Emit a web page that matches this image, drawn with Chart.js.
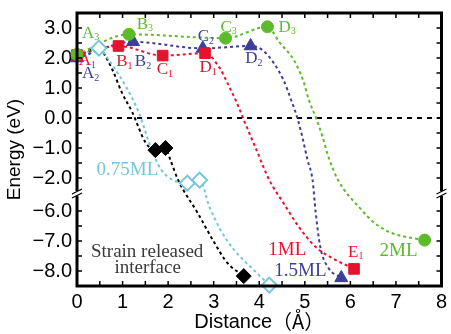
<!DOCTYPE html>
<html>
<head>
<meta charset="utf-8">
<script src="https://cdn.jsdelivr.net/npm/chart.js@4"></script>
<style>
html, body { margin: 0; padding: 0; background: #fff; }
canvas { display: block; }
</style>
</head>
<body>
<canvas id="chart" width="451" height="334"></canvas>
<script>
// energies are real values; the y axis is broken between -2.5 and -5.4
const xTicks = [0, 1, 2, 3, 4, 5, 6, 7, 8];
const yTicks = [3, 2, 1, 0, -1, -2, -6, -7, -8];

// 1ML (red squares A1..E1)
const ml1Marks = [[0, 2.1], [0.91, 2.4], [1.88, 2.08], [2.81, 2.16], [6.08, -7.93]];
const ml1Curve = [[0, 2.1], [0.91, 2.4], [1.88, 2.08], [2.81, 2.16], [3.13, 1.67], [3.3, 1.17], [3.51, 0.5],
  [3.69, -0.17], [3.94, -1.07], [4.22, -2.07], [4.53, -5.73], [4.87, -6.53], [5.24, -7.2], [5.6, -7.57], [6.08, -7.93]];

// 1.5ML (blue triangles A2..D2)
const ml15Marks = [[0, 2.0], [1.23, 2.54], [2.76, 2.32], [3.81, 2.4], [5.8, -8.23]];
const ml15Curve = [[0, 2.0], [1.23, 2.54], [2.76, 2.32], [3.81, 2.4], [4.12, 2.2], [4.53, 1.27], [4.7, 0.6],
  [4.85, -0.07], [4.96, -0.73], [5.06, -1.4], [5.17, -2.07], [5.24, -6.07], [5.34, -7.2], [5.52, -7.9], [5.8, -8.23]];

// 2ML (green circles A3..D3)
const ml2Marks = [[0, 2.12], [1.14, 2.79], [3.26, 2.66], [4.18, 3.04], [7.63, -6.97]];
const ml2Curve = [[0, 2.12], [1.14, 2.79], [3.26, 2.66], [4.18, 3.04], [4.44, 2.53], [4.76, 1.93], [4.96, 1.27],
  [5.09, 0.6], [5.24, 0.03], [5.39, -0.63], [5.52, -1.3], [5.73, -2.07], [6.25, -5.97], [6.53, -6.4],
  [6.9, -6.73], [7.24, -6.87], [7.63, -6.97]];

// 0.75ML (open cyan diamonds)
const ml075Marks = [[0.48, 2.33], [2.42, -2.17], [2.69, -2.07], [4.22, -8.47]];
const ml075Curve = [[0, 2.0], [0.48, 2.33], [0.65, 2.03], [1.08, 1.03], [1.36, 0.17], [1.64, -1.07], [1.85, -1.73],
  [2.11, -2.07], [2.42, -2.17], [2.69, -2.07], [2.91, -5.87], [3.15, -6.63], [3.45, -7.3], [3.88, -7.97], [4.22, -8.47]];

// strain released interface (black diamonds)
const srMarks = [[1.72, -1.07], [1.94, -1.0], [3.66, -8.17]];
const srCurve = [[0, 2.1], [0.5, 2.33], [0.62, 2.07], [0.78, 1.6], [0.99, 0.83], [1.21, 0.2], [1.51, -0.83],
  [1.72, -1.07], [1.94, -1.0], [2.05, -1.4], [2.22, -2.07], [2.65, -6.07], [3.02, -7.07], [3.3, -7.73], [3.66, -8.17]];

const zeroLine = [[0, 0], [8, 0]];

const RED = '#e5132d', BLUE = '#3d3f97', GREEN = '#5dbb2b', CYAN = '#72c7d8', GRAY = '#3a3a3a';

// broken axis: lower segment is shifted up so it sits right under -2.5
const BREAK_AT = -2.5;
const SHIFT = 2.9;
const fy = y => (y < -4 ? y + SHIFT : y);
const realY = v => (v < BREAK_AT - 0.01 ? v - SHIFT : v);
const toPts = arr => arr.map(([x, y]) => ({ x: x, y: fy(y) }));

// text annotations: [main, subscript, colour, x, y]
const pointLabels = [
  ['A', '3', GREEN, 0.11, 2.83], ['A', '1', RED, 0.04, 1.9], ['A', '2', BLUE, 0.11, 1.47],
  ['B', '1', RED, 0.86, 1.87], ['B', '2', BLUE, 1.27, 1.87], ['B', '3', GREEN, 1.31, 3.13],
  ['C', '1', RED, 1.75, 1.6], ['C', '2', BLUE, 2.65, 2.7], ['C', '3', GREEN, 3.15, 3.03],
  ['D', '1', RED, 2.69, 1.67], ['D', '2', BLUE, 3.69, 1.97], ['D', '3', GREEN, 4.42, 3.03],
  ['E', '1', RED, 5.95, -7.37]
];
const seriesLabels = [
  ['0.75ML', CYAN, 0.43, -1.73, 'left'], ['1ML', RED, 4.2, -7.3, 'left'], ['1.5ML', BLUE, 4.33, -8.0, 'left'],
  ['2ML', GREEN, 6.64, -7.33, 'left'], ['Strain released', GRAY, 1.54, -7.37, 'center'], ['interface', GRAY, 1.55, -7.9, 'center']
];

function markSet(data, style, radius, fill, stroke, order) {
  return {
    data: toPts(data), showLine: false, pointStyle: style, pointRadius: radius, pointHoverRadius: radius,
    pointBackgroundColor: fill, pointBorderColor: stroke, pointBorderWidth: fill === '#ffffff' ? 2 : 1,
    order: order, clip: false
  };
}

function curveSet(data, color) {
  return {
    data: toPts(data), showLine: true, pointRadius: 0, borderColor: color, borderWidth: 2,
    borderDash: [3, 3], cubicInterpolationMode: 'monotone', fill: false, order: 10
  };
}

const framePlugin = {
  id: 'frame',
  afterDraw(chart) {
    const ctx = chart.ctx;
    const a = chart.chartArea;
    const xs = chart.scales.x, ys = chart.scales.y;
    ctx.save();

    // tick marks, inward on all four sides
    ctx.strokeStyle = '#000';
    ctx.lineWidth = 1.5;
    ctx.beginPath();
    for (let v = 0.5; v < 8; v += 0.5) {
      const px = xs.getPixelForValue(v);
      ctx.moveTo(px, a.bottom); ctx.lineTo(px, a.bottom - 5);
      ctx.moveTo(px, a.top); ctx.lineTo(px, a.top + 5);
    }
    const yMinor = [];
    for (let v = -2; v <= 3; v += 0.5) yMinor.push(v);
    for (let v = -8; v <= -6; v += 0.5) yMinor.push(v);
    yMinor.forEach(v => {
      const py = ys.getPixelForValue(fy(v));
      ctx.moveTo(a.left, py); ctx.lineTo(a.left + 5, py);
      ctx.moveTo(a.right, py); ctx.lineTo(a.right - 5, py);
    });
    ctx.stroke();

    // frame
    ctx.lineWidth = 3;
    ctx.strokeRect(a.left, a.top, a.right - a.left, a.bottom - a.top);

    // axis break marks
    const by = ys.getPixelForValue(BREAK_AT);
    [a.left, a.right].forEach(x => {
      ctx.fillStyle = '#fff';
      ctx.fillRect(x - 3, by - 2, 6, 5);
      ctx.strokeStyle = '#000';
      ctx.lineWidth = 1.2;
      ctx.beginPath();
      ctx.moveTo(x - 5, by + 1); ctx.lineTo(x + 5, by - 4);
      ctx.moveTo(x - 5, by + 5); ctx.lineTo(x + 5, by);
      ctx.stroke();
    });

    // point labels with subscripts
    ctx.textBaseline = 'middle';
    ctx.textAlign = 'left';
    pointLabels.forEach(([m, s, c, x, y]) => {
      const px = xs.getPixelForValue(x), py = ys.getPixelForValue(fy(y));
      ctx.fillStyle = c;
      ctx.font = '17px "Liberation Serif"';
      ctx.fillText(m, px, py);
      const w = ctx.measureText(m).width;
      ctx.font = '10px "Liberation Serif"';
      ctx.fillText(s, px + w, py + 4);
    });

    ctx.font = '19px "Liberation Serif"';
    seriesLabels.forEach(([t, c, x, y, al]) => {
      ctx.fillStyle = c;
      ctx.textAlign = al;
      ctx.fillText(t, xs.getPixelForValue(x), ys.getPixelForValue(fy(y)));
    });

    // axis titles (x title: latin part + full-width brackets from the CJK font)
    ctx.fillStyle = '#000';
    ctx.textAlign = 'left';
    const fontA = '20px "Liberation Sans"';
    const fontB = '20px "Noto Sans CJK JP"';
    ctx.font = fontA;
    const w1 = ctx.measureText('Distance').width;
    ctx.font = fontB;
    const w2 = ctx.measureText('\uff08\u00c5\uff09').width;
    const x0 = (a.left + a.right) / 2 - (w1 + w2) / 2;
    ctx.font = fontA;
    ctx.fillText('Distance', x0, 322);
    ctx.font = fontB;
    ctx.fillText('\uff08\u00c5\uff09', x0 + w1, 321);

    ctx.textAlign = 'center';
    ctx.font = '19px "Liberation Sans"';
    ctx.translate(15, (a.top + a.bottom) / 2);
    ctx.rotate(-Math.PI / 2);
    ctx.fillText('Energy (eV)', 0, 0);
    ctx.restore();
  }
};

new Chart(document.getElementById('chart'), {
  type: 'scatter',
  data: {
    datasets: [
      markSet(ml2Marks, 'circle', 6, GREEN, GREEN, 0),
      markSet(ml1Marks, 'rect', 7.5, RED, RED, 1),
      markSet(srMarks, 'rectRot', 7.5, '#000', '#000', 2),
      markSet(ml075Marks, 'rectRot', 7.5, '#ffffff', CYAN, 2),
      markSet(ml15Marks, 'triangle', 7.5, BLUE, BLUE, 3),
      curveSet(ml1Curve, RED),
      curveSet(ml15Curve, BLUE),
      curveSet(ml2Curve, GREEN),
      curveSet(ml075Curve, CYAN),
      curveSet(srCurve, '#000'),
      {
        data: toPts(zeroLine), showLine: true, pointRadius: 0, borderColor: '#000', borderWidth: 2,
        borderDash: [5, 5], order: 11
      }
    ]
  },
  options: {
    responsive: false,
    animation: false,
    devicePixelRatio: 1,
    layout: { padding: { top: 13, right: 3, left: 0, bottom: 0 } },
    plugins: { legend: { display: false }, tooltip: { enabled: false } },
    scales: {
      x: {
        type: 'linear', min: 0, max: 8,
        grid: { display: false, drawTicks: false },
        border: { display: false },
        afterBuildTicks: s => { s.ticks = xTicks.map(v => ({ value: v })); },
        ticks: { color: '#000', padding: 4, maxRotation: 0, font: { family: 'Liberation Sans', size: 20 }, callback: v => String(v) },
        afterFit: s => { s.height = 48; s.paddingLeft = 0; s.paddingRight = 0; }
      },
      y: {
        type: 'linear', min: fy(-8.5), max: 3.5,
        grid: { display: false, drawTicks: false },
        border: { display: false },
        afterBuildTicks: s => { s.ticks = yTicks.map(v => ({ value: fy(v) })); },
        ticks: {
          color: '#000', padding: 5, font: { family: 'Liberation Sans', size: 20 },
          callback: v => realY(v).toFixed(1).replace('-', '\u2212')
        },
        afterFit: s => { s.width = 77; s.paddingTop = 0; s.paddingBottom = 0; }
      }
    }
  },
  plugins: [framePlugin]
});
</script>
</body>
</html>
